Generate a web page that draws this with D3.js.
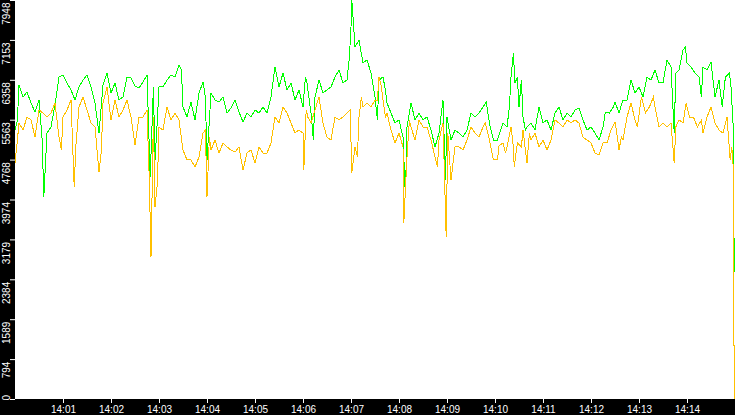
<!DOCTYPE html>
<html>
<head>
<meta charset="utf-8">
<script src="https://cdn.jsdelivr.net/npm/d3@7"></script>
<style>
  body { margin: 0; background: #fff; }
  svg { display: block; }
</style>
</head>
<body>
<svg id="drawing_region"></svg>
<script>
// [seconds after 14:00:00, value]
const greenSeries = [
  [0,5358],[3,5558],[5,6255],[10,6016],[15,6116],[20,5896],[25,5717],[30,5956],[34,5159],[36,4024],
  [40,5299],[45,5418],[50,5856],[55,6414],[60,6454],[65,6295],[70,6155],[75,5956],[80,6215],[85,6354],
  [90,6454],[95,6215],[100,5896],[105,5299],[110,6255],[115,6494],[120,6096],[125,6295],[130,5956],[135,6016],
  [140,6414],[145,6394],[150,6235],[155,6195],[160,6315],[165,6454],[169,4422],[173,6215],[175,4761],[178,5558],
  [180,6215],[185,6215],[190,6354],[195,6454],[200,6414],[205,6653],[208,6554],[210,5817],[215,5617],[220,5916],
  [225,5558],[230,6096],[235,6315],[238,6016],[240,4761],[245,6096],[250,5956],[255,5916],[260,6016],[265,5697],
  [270,5797],[275,5956],[280,5717],[285,5518],[290,5697],[295,5617],[300,5757],[305,5697],[310,5817],[315,5697],
  [320,6016],[325,6613],[330,6215],[335,6494],[340,6155],[345,6295],[350,5956],[355,6155],[360,5817],[363,6414],
  [365,6295],[370,5697],[373,5159],[375,6016],[380,6354],[385,6096],[390,6155],[395,6215],[400,6414],[405,6554],
  [410,6295],[415,6354],[418,6813],[420,7410],[421,7948],[423,7490],[425,7012],[430,7151],[435,6693],[440,6753],
  [445,6494],[450,6016],[453,5558],[455,6354],[460,6414],[463,6155],[465,5896],[470,5697],[475,5498],[480,5558],
  [485,5219],[488,4024],[490,5418],[495,5896],[500,5558],[505,5697],[510,5558],[515,5617],[520,5358],[525,5020],
  [530,5299],[535,5956],[538,4362],[540,5617],[545,5159],[550,5358],[555,5299],[560,5219],[565,5358],[570,5697],
  [575,5617],[580,5697],[585,5817],[589,5916],[593,5498],[598,5159],[603,5159],[610,5498],[615,5418],[618,5817],
  [620,6414],[623,6892],[625,6295],[628,6414],[630,5817],[633,6354],[635,5617],[638,5358],[640,5418],[645,5498],
  [650,5358],[655,5817],[660,5498],[665,5558],[670,5358],[675,5697],[680,5817],[685,5558],[690,5697],[695,5617],
  [700,5757],[705,5797],[710,5558],[715,5358],[720,5418],[725,5299],[730,5159],[735,5418],[738,5717],[743,5697],
  [748,5817],[750,5916],[755,5697],[760,5956],[765,5956],[770,6354],[775,6096],[780,6215],[785,6016],[790,6414],
  [795,6354],[800,6554],[805,6295],[810,6295],[815,6753],[820,6613],[824,5299],[826,6494],[830,6554],[835,6952],
  [838,7012],[840,6693],[845,6613],[850,6494],[855,6414],[858,6016],[860,6613],[865,6554],[870,6713],[875,6016],
  [880,6354],[884,5817],[888,6414],[893,6494],[895,6215],[898,5358],[899,2530]
];

const yellowSeries = [
  [0,4701],[3,5159],[5,5498],[10,5358],[15,5617],[20,5558],[25,5219],[30,5757],[35,5697],[40,5617],
  [45,5697],[50,5896],[55,5219],[58,4960],[60,5617],[65,5757],[70,5956],[74,4223],[76,5020],[80,5817],
  [85,6016],[90,5757],[95,5498],[100,5418],[105,4522],[108,4960],[110,5896],[115,6215],[120,5558],[125,5956],
  [130,5617],[135,5757],[140,5956],[145,5617],[150,5060],[155,5617],[160,5617],[165,5757],[168,4303],[170,2829],
  [173,5617],[175,3825],[178,4303],[180,5418],[185,5358],[190,5817],[195,5558],[200,5697],[205,5558],[210,4960],
  [215,4761],[220,4761],[225,4621],[230,4821],[235,5299],[238,5358],[240,4024],[243,5219],[245,4960],[250,5159],
  [255,4900],[260,5100],[265,5020],[270,4960],[275,4920],[280,5020],[285,4562],[290,4900],[295,4960],[300,4701],
  [305,5020],[310,4900],[315,4900],[320,5100],[325,5617],[330,5498],[335,5817],[340,5697],[345,5498],[350,5299],
  [355,5358],[360,5299],[361,4562],[364,5757],[366,5617],[370,5498],[375,5757],[380,6016],[385,5498],[390,5219],
  [395,5159],[400,5617],[405,5558],[410,5617],[415,5697],[419,5757],[421,4502],[425,5020],[428,4821],[430,5617],
  [433,6016],[435,5817],[440,5896],[445,5817],[450,5956],[453,5956],[455,6414],[458,6215],[460,5956],[463,5617],
  [465,5697],[470,5358],[475,5100],[480,5299],[485,5020],[486,3506],[490,4821],[493,5558],[495,5418],[500,5159],
  [505,5558],[510,5418],[515,5418],[520,5159],[525,4821],[528,4621],[530,5159],[535,5498],[539,3227],[541,5299],
  [545,4362],[550,5020],[555,5020],[560,4960],[565,5159],[570,5418],[575,5299],[580,5219],[585,5418],[588,5498],
  [593,5159],[598,4761],[603,4761],[605,5040],[610,5100],[613,4900],[615,5020],[620,5418],[623,5020],[624,4621],
  [628,5100],[633,5020],[635,5358],[640,4701],[643,5299],[645,5159],[650,5299],[655,5020],[660,5159],[665,4960],
  [670,5159],[675,5558],[680,5498],[685,5418],[690,5558],[695,5498],[700,5558],[705,5498],[710,5219],[715,5159],
  [720,5100],[725,4900],[730,4860],[735,5100],[740,5100],[745,5358],[750,5518],[753,5219],[755,4960],[758,5219],
  [760,5159],[765,5617],[770,5896],[775,5558],[778,5418],[783,6016],[788,5697],[793,5817],[798,6016],[800,5817],
  [805,5418],[810,5498],[815,5418],[820,5498],[824,4701],[826,5418],[830,5558],[835,5498],[839,5896],[843,5617],
  [848,5617],[853,5418],[858,5558],[860,5299],[865,5617],[870,5817],[875,5498],[880,5358],[885,5299],[890,5617],
  [894,4761],[896,5020],[898,4562],[899,0]
];

const yTickValues = [0, 794.8, 1589.6, 2384.4, 3179.2, 3974, 4768.8, 5563.6, 6358.4, 7153.2, 7948];
const yTickLabels = ['0','794','1589','2384','3179','3974','4768','5563','6358','7153','7948'];
const xTickMinutes = [1,2,3,4,5,6,7,8,9,10,11,12,13,14];

const config = {
    width: 735,
    height: 415,
    margin: {left: 15, bottom: 16},
    font: '10px "Liberation Sans", Arial, sans-serif'
};

const start = Date.UTC(2021, 0, 1, 14, 0, 0);
const toDate = s => new Date(start + s * 1000);

const svg = d3.select('#drawing_region')
    .attr('width', config.width)
    .attr('height', config.height);

const plotBottom = config.height - config.margin.bottom; // 399

const xscale = d3.scaleUtc()
    .domain([toDate(0), toDate(900)])
    .range([config.margin.left, config.width]);

const yscale = d3.scaleLinear()
    .domain([0, 7948])
    .range([plotBottom, 0]);

svg.append('defs').append('clipPath').attr('id', 'plotclip')
    .append('rect')
    .attr('x', config.margin.left).attr('y', 0)
    .attr('width', config.width - config.margin.left)
    .attr('height', plotBottom);

// black frame strips
svg.append('rect').attr('x', 0).attr('y', 0)
    .attr('width', config.margin.left).attr('height', config.height).attr('fill', '#000');
svg.append('rect').attr('x', 0).attr('y', plotBottom)
    .attr('width', config.width).attr('height', config.margin.bottom).attr('fill', '#000');

const line = d3.line()
    .x(d => xscale(toDate(d[0])))
    .y(d => yscale(d[1]));

const lines = svg.append('g').attr('clip-path', 'url(#plotclip)');

lines.append('path')
    .datum(greenSeries)
    .attr('d', line)
    .attr('fill', 'none')
    .attr('stroke', '#00ff00')
    .attr('stroke-width', 1)
    .attr('shape-rendering', 'crispEdges');

lines.append('path')
    .datum(yellowSeries)
    .attr('d', line)
    .attr('fill', 'none')
    .attr('stroke', '#ffc000')
    .attr('stroke-width', 1)
    .attr('shape-rendering', 'crispEdges');

// x axis
const xaxis = d3.axisBottom(xscale)
    .tickValues(xTickMinutes.map(m => toDate(m * 60)))
    .tickSize(4)
    .tickPadding(3)
    .tickFormat(d3.utcFormat('%H:%M'));

const xg = svg.append('g')
    .attr('transform', `translate(0, ${plotBottom})`)
    .call(xaxis);
xg.select('.domain').remove();
xg.selectAll('line').attr('stroke', '#fff');
xg.selectAll('text').attr('fill', '#fff').style('font', config.font);

// y axis
const yaxis = d3.axisLeft(yscale)
    .tickValues(yTickValues)
    .tickSize(5)
    .tickFormat((d, i) => yTickLabels[i]);

const yg = svg.append('g')
    .attr('transform', `translate(${config.margin.left}, 0)`)
    .call(yaxis);
yg.select('.domain').remove();
yg.selectAll('line').attr('stroke', '#fff');
yg.selectAll('text')
    .attr('fill', '#fff')
    .style('font', config.font)
    .attr('x', null)
    .attr('dy', null)
    .attr('text-anchor', d => d === 0 ? 'start' : 'end')
    .attr('transform', d => {
        const ty = yscale(d);
        const off = d === 0 ? -(plotBottom + 1 - ty) : -2;
        return `translate(-5, 0) rotate(-90) translate(${off}, 0)`;
    });
</script>
</body>
</html>
